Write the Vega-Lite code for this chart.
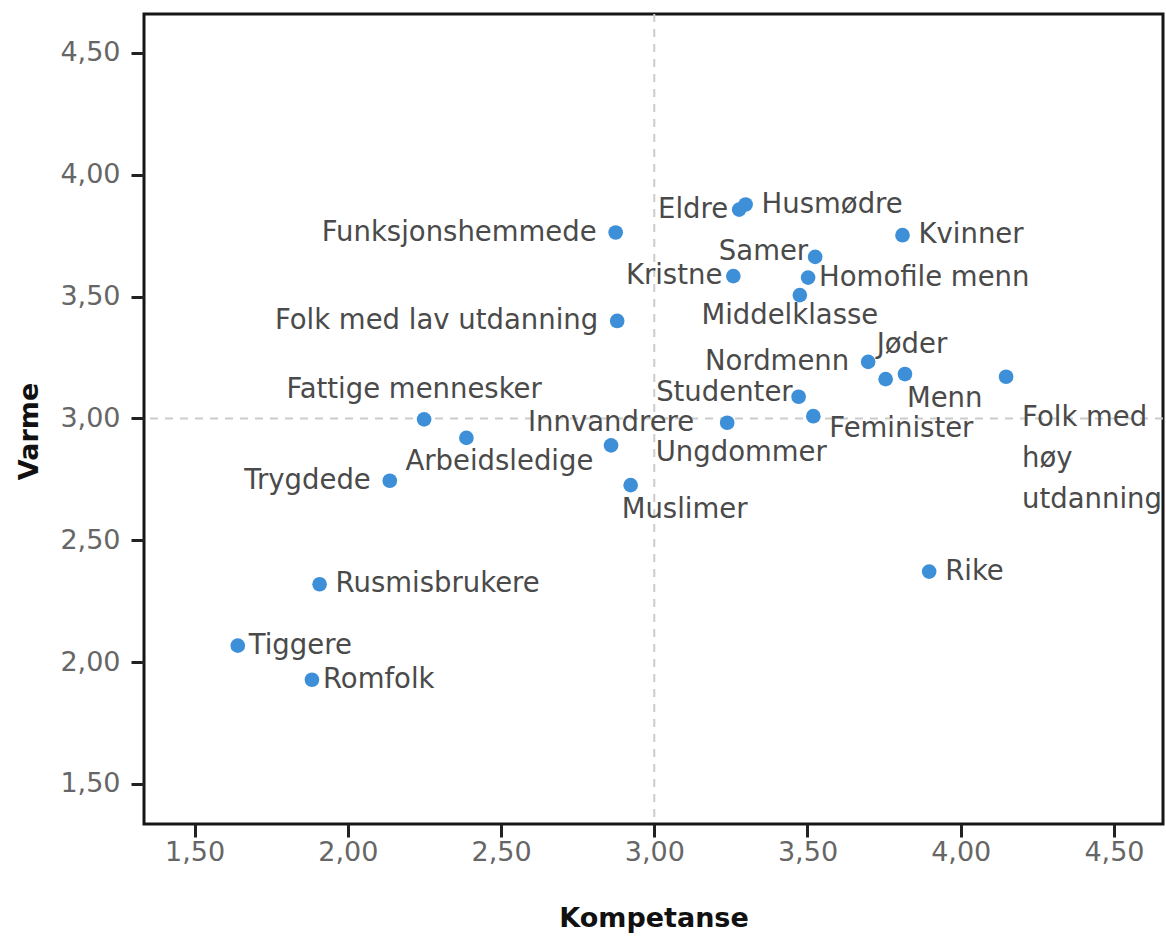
{
  "$schema": "https://vega.github.io/schema/vega-lite/v6.json",
  "width": 1019,
  "height": 810,
  "autosize": {"type": "none"},
  "padding": {"left": 144, "top": 14, "right": 3, "bottom": 114},
  "background": "white",
  "config": {
    "view": {"stroke": "#161616", "strokeWidth": 3},
    "axis": {
      "grid": false,
      "domain": false,
      "ticks": true,
      "tickColor": "#222222",
      "tickWidth": 3,
      "tickSize": 13,
      "labelFont": "DejaVu Sans",
      "labelFontSize": 27,
      "labelColor": "#666666",
      "titleFont": "DejaVu Sans",
      "titleFontSize": 27,
      "titleFontWeight": "bold",
      "titleColor": "#111111"
    },
    "text": {"font": "DejaVu Sans", "fontSize": 27.5, "color": "#4a4a4a"}
  },
  "layer": [
    {
      "data": {"values": [{"kompetanse": 3}]},
      "mark": {"type": "rule", "color": "#cccccc", "strokeWidth": 2, "strokeDash": [8, 7]},
      "encoding": {
        "x": {"field": "kompetanse", "type": "quantitative", "title": "Kompetanse"}
      }
    },
    {
      "data": {"values": [{"varme": 3}]},
      "mark": {"type": "rule", "color": "#cccccc", "strokeWidth": 2, "strokeDash": [8, 7]},
      "encoding": {
        "y": {"field": "varme", "type": "quantitative", "title": "Varme"}
      }
    },
    {
      "data": {
        "values": [
          {"group": "Funksjonshemmede", "kompetanse": 2.874, "varme": 3.763},
          {"group": "Eldre", "kompetanse": 3.277, "varme": 3.857},
          {"group": "Husmødre", "kompetanse": 3.298, "varme": 3.878},
          {"group": "Kvinner", "kompetanse": 3.81, "varme": 3.752},
          {"group": "Samer", "kompetanse": 3.525, "varme": 3.663},
          {"group": "Kristne", "kompetanse": 3.258, "varme": 3.584},
          {"group": "Homofile menn", "kompetanse": 3.502, "varme": 3.578},
          {"group": "Middelklasse", "kompetanse": 3.475, "varme": 3.506},
          {"group": "Folk med lav utdanning", "kompetanse": 2.879, "varme": 3.4},
          {"group": "Nordmenn", "kompetanse": 3.698, "varme": 3.232},
          {"group": "Jøder", "kompetanse": 3.755, "varme": 3.161},
          {"group": "Menn", "kompetanse": 3.818, "varme": 3.182},
          {"group": "Folk med\nhøy\nutdanning", "kompetanse": 4.148, "varme": 3.171},
          {"group": "Studenter", "kompetanse": 3.471, "varme": 3.089},
          {"group": "Feminister", "kompetanse": 3.519, "varme": 3.009},
          {"group": "Ungdommer", "kompetanse": 3.238, "varme": 2.982},
          {"group": "Fattige mennesker", "kompetanse": 2.249, "varme": 2.996},
          {"group": "Arbeidsledige", "kompetanse": 2.387, "varme": 2.92},
          {"group": "Innvandrere", "kompetanse": 2.859, "varme": 2.889},
          {"group": "Muslimer", "kompetanse": 2.923, "varme": 2.726},
          {"group": "Trygdede", "kompetanse": 2.137, "varme": 2.744},
          {"group": "Rusmisbrukere", "kompetanse": 1.908, "varme": 2.319},
          {"group": "Tiggere", "kompetanse": 1.641, "varme": 2.067},
          {"group": "Romfolk", "kompetanse": 1.883, "varme": 1.927},
          {"group": "Rike", "kompetanse": 3.897, "varme": 2.371}
        ]
      },
      "encoding": {
        "x": {
          "field": "kompetanse",
          "type": "quantitative",
          "title": "Kompetanse",
          "scale": {"domain": [1.335, 4.66], "nice": false, "zero": false},
          "axis": {
            "values": [1.5, 2, 2.5, 3, 3.5, 4, 4.5],
            "labelExpr": "replace(format(datum.value, '.2f'), '.', ',')",
            "labelPadding": 2,
            "titleBaseline": "middle",
            "titleY": 94
          }
        },
        "y": {
          "field": "varme",
          "type": "quantitative",
          "title": "Varme",
          "scale": {"domain": [1.335, 4.66], "nice": false, "zero": false},
          "axis": {
            "values": [1.5, 2, 2.5, 3, 3.5, 4, 4.5],
            "labelExpr": "replace(format(datum.value, '.2f'), '.', ',')",
            "labelPadding": 11,
            "titleAngle": 270,
            "titleAlign": "center",
            "titleBaseline": "middle",
            "titleX": -115,
            "titleY": 417
          }
        }
      },
      "layer": [
        {
          "mark": {"type": "circle", "size": 215, "opacity": 1, "color": "#3d8fd8"}
        },
        {
          "transform": [{"filter": {"field": "group", "oneOf": ["Husmødre", "Kvinner", "Rike", "Rusmisbrukere"]}}],
          "mark": {"type": "text", "align": "left", "baseline": "middle", "dx": 16},
          "encoding": {"text": {"field": "group"}}
        },
        {
          "transform": [{"filter": {"field": "group", "oneOf": ["Homofile menn", "Tiggere", "Romfolk"]}}],
          "mark": {"type": "text", "align": "left", "baseline": "middle", "dx": 11},
          "encoding": {"text": {"field": "group"}}
        },
        {
          "transform": [{"filter": {"field": "group", "oneOf": ["Funksjonshemmede", "Folk med lav utdanning", "Nordmenn", "Trygdede"]}}],
          "mark": {"type": "text", "align": "right", "baseline": "middle", "dx": -19},
          "encoding": {"text": {"field": "group"}}
        },
        {
          "transform": [{"filter": {"field": "group", "oneOf": ["Eldre", "Kristne"]}}],
          "mark": {"type": "text", "align": "right", "baseline": "middle", "dx": -11},
          "encoding": {"text": {"field": "group"}}
        },
        {
          "transform": [{"filter": {"field": "group", "equal": "Samer"}}],
          "mark": {"type": "text", "align": "right", "baseline": "middle", "dx": -7, "dy": -5},
          "encoding": {"text": {"field": "group"}}
        },
        {
          "transform": [{"filter": {"field": "group", "equal": "Middelklasse"}}],
          "mark": {"type": "text", "align": "center", "baseline": "middle", "dx": -10, "dy": 21},
          "encoding": {"text": {"field": "group"}}
        },
        {
          "transform": [{"filter": {"field": "group", "equal": "Jøder"}}],
          "mark": {"type": "text", "align": "left", "baseline": "middle", "dx": -9, "dy": -34},
          "encoding": {"text": {"field": "group"}}
        },
        {
          "transform": [{"filter": {"field": "group", "equal": "Menn"}}],
          "mark": {"type": "text", "align": "left", "baseline": "middle", "dx": 2, "dy": 25},
          "encoding": {"text": {"field": "group"}}
        },
        {
          "transform": [{"filter": {"field": "group", "equal": "Studenter"}}],
          "mark": {"type": "text", "align": "right", "baseline": "middle", "dx": -6, "dy": -4},
          "encoding": {"text": {"field": "group"}}
        },
        {
          "transform": [{"filter": {"field": "group", "equal": "Feminister"}}],
          "mark": {"type": "text", "align": "left", "baseline": "middle", "dx": 16, "dy": 13},
          "encoding": {"text": {"field": "group"}}
        },
        {
          "transform": [{"filter": {"field": "group", "equal": "Innvandrere"}}],
          "mark": {"type": "text", "align": "center", "baseline": "middle", "dx": 0, "dy": -22},
          "encoding": {"text": {"field": "group"}}
        },
        {
          "transform": [{"filter": {"field": "group", "equal": "Ungdommer"}}],
          "mark": {"type": "text", "align": "center", "baseline": "middle", "dx": 14, "dy": 30},
          "encoding": {"text": {"field": "group"}}
        },
        {
          "transform": [{"filter": {"field": "group", "equal": "Muslimer"}}],
          "mark": {"type": "text", "align": "left", "baseline": "middle", "dx": -9, "dy": 25},
          "encoding": {"text": {"field": "group"}}
        },
        {
          "transform": [{"filter": {"field": "group", "equal": "Fattige mennesker"}}],
          "mark": {"type": "text", "align": "center", "baseline": "middle", "dx": -10, "dy": -29},
          "encoding": {"text": {"field": "group"}}
        },
        {
          "transform": [{"filter": {"field": "group", "equal": "Arbeidsledige"}}],
          "mark": {"type": "text", "align": "left", "baseline": "middle", "dx": -61, "dy": 24},
          "encoding": {"text": {"field": "group"}}
        },
        {
          "transform": [{"filter": {"field": "group", "equal": "Folk med\nhøy\nutdanning"}}],
          "mark": {"type": "text", "align": "left", "baseline": "middle", "dx": 16, "dy": 41, "lineBreak": "\n", "lineHeight": 41},
          "encoding": {"text": {"field": "group"}}
        }
      ]
    }
  ]
}
